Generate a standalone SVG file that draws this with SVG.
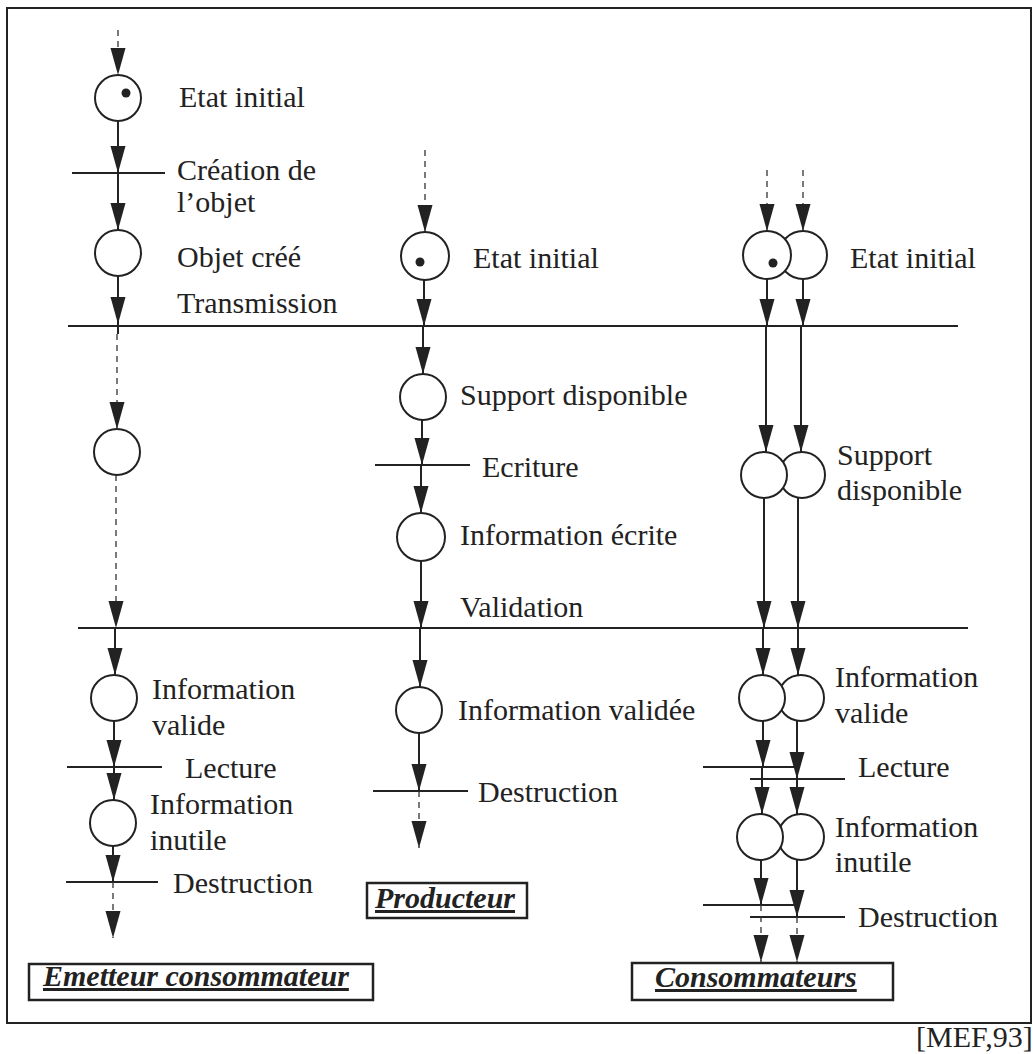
<svg xmlns="http://www.w3.org/2000/svg" width="1033" height="1054" viewBox="0 0 1033 1054">
<style>
.st{fill:#fff;stroke:#222;stroke-width:2}
.dot{fill:#222}
.c{fill:none;stroke:#222;stroke-width:2}
.d{fill:none;stroke:#333;stroke-width:1.3;stroke-dasharray:6,5}
.bar{stroke:#222;stroke-width:2}
.t{font-size:30px;fill:#222}
.h{font-size:30px;font-weight:bold;font-style:italic;text-decoration:underline;fill:#222}
.box{fill:#fff;stroke:#222;stroke-width:2.5}
</style>
<defs>
<marker id="ah" viewBox="0 -8 28 16" refX="27" refY="0" markerWidth="28" markerHeight="16" markerUnits="userSpaceOnUse" orient="auto">
<path d="M0,-7.5 L27,0 L0,7.5 Z" fill="#222"/>
</marker>
</defs>
<rect width="1033" height="1054" fill="#fff"/>
<rect x="7" y="8" width="1024" height="1015" fill="none" stroke="#222" stroke-width="2"/>
<g font-family="Liberation Serif, Tinos, DejaVu Serif, serif">
<text class="t" x="916" y="1047" font-size="26">[MEF,93]</text>

<!-- transitions (bars) -->
<g id="transitions">
<line class="bar" x1="68" y1="326" x2="958" y2="326"/>
<line class="bar" x1="78" y1="628" x2="968" y2="628"/>
<g id="t-creation"><line class="bar" x1="72" y1="173" x2="165" y2="173"/><text class="t" x="177" y="180">Création de</text><text class="t" x="177" y="212">l’objet</text></g>
<g id="t-transmission"><text class="t" x="177" y="313">Transmission</text></g>
<g id="t-lecture-e"><line class="bar" x1="67" y1="767" x2="162" y2="767"/><text class="t" x="185" y="778">Lecture</text></g>
<g id="t-destruction-e"><line class="bar" x1="66" y1="882" x2="158" y2="882"/><text class="t" x="173" y="893">Destruction</text></g>
<g id="t-ecriture"><line class="bar" x1="375" y1="465" x2="470" y2="465"/><text class="t" x="482" y="477">Ecriture</text></g>
<g id="t-validation"><text class="t" x="460" y="617">Validation</text></g>
<g id="t-destruction-p"><line class="bar" x1="373" y1="791" x2="468" y2="791"/><text class="t" x="478" y="802">Destruction</text></g>
<g id="t-lecture-c"><line class="bar" x1="703" y1="767" x2="795" y2="767"/><line class="bar" x1="750" y1="779" x2="845" y2="779"/><text class="t" x="858" y="777">Lecture</text></g>
<g id="t-destruction-c"><line class="bar" x1="703" y1="905" x2="795" y2="905"/><line class="bar" x1="750" y1="917" x2="845" y2="917"/><text class="t" x="858" y="927">Destruction</text></g>
</g>

<!-- connectors -->
<g id="connectors">
<line class="d" x1="118" y1="30" x2="118" y2="75" marker-end="url(#ah)"/>
<line class="c" x1="118" y1="121" x2="118" y2="173" marker-end="url(#ah)"/>
<line class="c" x1="118" y1="173" x2="118" y2="230" marker-end="url(#ah)"/>
<line class="c" x1="118" y1="276" x2="118" y2="324" marker-end="url(#ah)"/>
<line class="c" x1="118" y1="324" x2="118" y2="334"/>
<line class="d" x1="117" y1="334" x2="117" y2="429" marker-end="url(#ah)"/>
<line class="d" x1="116" y1="475" x2="116" y2="628" marker-end="url(#ah)"/>
<line class="c" x1="115" y1="628" x2="115" y2="675" marker-end="url(#ah)"/>
<line class="c" x1="114" y1="721" x2="114" y2="767" marker-end="url(#ah)"/>
<line class="c" x1="114" y1="767" x2="114" y2="800" marker-end="url(#ah)"/>
<line class="c" x1="113" y1="846" x2="113" y2="882" marker-end="url(#ah)"/>
<line class="d" x1="113" y1="882" x2="113" y2="938" marker-end="url(#ah)"/>
<line class="d" x1="425" y1="150" x2="425" y2="232" marker-end="url(#ah)"/>
<line class="c" x1="424" y1="280" x2="424" y2="326" marker-end="url(#ah)"/>
<line class="c" x1="423" y1="326" x2="423" y2="374" marker-end="url(#ah)"/>
<line class="c" x1="422" y1="420" x2="422" y2="465" marker-end="url(#ah)"/>
<line class="c" x1="421" y1="465" x2="421" y2="513" marker-end="url(#ah)"/>
<line class="c" x1="421" y1="561" x2="421" y2="628" marker-end="url(#ah)"/>
<line class="c" x1="420" y1="628" x2="420" y2="687" marker-end="url(#ah)"/>
<line class="c" x1="419" y1="733" x2="419" y2="791" marker-end="url(#ah)"/>
<line class="d" x1="419" y1="791" x2="419" y2="848" marker-end="url(#ah)"/>
<line class="d" x1="767" y1="170" x2="767" y2="231" marker-end="url(#ah)"/>
<line class="d" x1="803" y1="170" x2="803" y2="231" marker-end="url(#ah)"/>
<line class="c" x1="767" y1="279" x2="767" y2="326" marker-end="url(#ah)"/>
<line class="c" x1="803" y1="279" x2="803" y2="326" marker-end="url(#ah)"/>
<line class="c" x1="766" y1="326" x2="766" y2="452" marker-end="url(#ah)"/>
<line class="c" x1="801" y1="326" x2="801" y2="452" marker-end="url(#ah)"/>
<line class="c" x1="764" y1="498" x2="764" y2="628" marker-end="url(#ah)"/>
<line class="c" x1="798" y1="498" x2="798" y2="628" marker-end="url(#ah)"/>
<line class="c" x1="763" y1="628" x2="763" y2="675" marker-end="url(#ah)"/>
<line class="c" x1="798" y1="628" x2="798" y2="675" marker-end="url(#ah)"/>
<line class="c" x1="763" y1="721" x2="763" y2="767" marker-end="url(#ah)"/>
<line class="c" x1="797" y1="721" x2="797" y2="779" marker-end="url(#ah)"/>
<line class="c" x1="762" y1="767" x2="762" y2="814" marker-end="url(#ah)"/>
<line class="c" x1="797" y1="779" x2="797" y2="814" marker-end="url(#ah)"/>
<line class="c" x1="761" y1="860" x2="761" y2="905" marker-end="url(#ah)"/>
<line class="c" x1="797" y1="860" x2="797" y2="917" marker-end="url(#ah)"/>
<line class="d" x1="761" y1="905" x2="761" y2="962" marker-end="url(#ah)"/>
<line class="d" x1="797" y1="917" x2="797" y2="962" marker-end="url(#ah)"/>
</g>

<!-- places -->
<g id="e-etat-initial"><circle class="st" cx="118" cy="98" r="23"/><circle class="dot" cx="126" cy="93" r="4.5"/><text class="t" x="179" y="107">Etat initial</text></g>
<g id="e-objet-cree"><circle class="st" cx="118" cy="253" r="23"/><text class="t" x="177" y="267">Objet créé</text></g>
<g id="e-transmis"><circle class="st" cx="117" cy="452" r="23"/></g>
<g id="e-info-valide"><circle class="st" cx="114" cy="698" r="23"/><text class="t" x="152" y="699">Information</text><text class="t" x="152" y="735">valide</text></g>
<g id="e-info-inutile"><circle class="st" cx="113" cy="823" r="23"/><text class="t" x="150" y="814">Information</text><text class="t" x="150" y="850">inutile</text></g>

<g id="p-etat-initial"><circle class="st" cx="425" cy="256" r="24"/><circle class="dot" cx="420" cy="262" r="4.5"/><text class="t" x="473" y="268">Etat initial</text></g>
<g id="p-support"><circle class="st" cx="423" cy="397" r="23"/><text class="t" x="460" y="405">Support disponible</text></g>
<g id="p-info-ecrite"><circle class="st" cx="421" cy="537" r="24"/><text class="t" x="460" y="545">Information écrite</text></g>
<g id="p-info-validee"><circle class="st" cx="419" cy="710" r="23"/><text class="t" x="458" y="720">Information validée</text></g>

<g id="c-etat-initial"><circle class="st" cx="803" cy="255" r="24"/><circle class="st" cx="767" cy="255" r="24"/><circle class="dot" cx="773" cy="263" r="4.5"/><text class="t" x="850" y="268">Etat initial</text></g>
<g id="c-support"><circle class="st" cx="802" cy="475" r="23"/><circle class="st" cx="764" cy="475" r="23"/><text class="t" x="837" y="465">Support</text><text class="t" x="837" y="500">disponible</text></g>
<g id="c-info-valide"><circle class="st" cx="801" cy="698" r="23"/><circle class="st" cx="762" cy="698" r="23"/><text class="t" x="835" y="687">Information</text><text class="t" x="835" y="723">valide</text></g>
<g id="c-info-inutile"><circle class="st" cx="801" cy="837" r="23"/><circle class="st" cx="760" cy="837" r="23"/><text class="t" x="835" y="837">Information</text><text class="t" x="835" y="872">inutile</text></g>

<!-- titles -->
<g id="title-emetteur"><rect class="box" x="29" y="964" width="344" height="36"/><text class="h" x="43" y="986">Emetteur consommateur</text></g>
<g id="title-producteur"><rect class="box" x="367" y="883" width="160" height="35"/><text class="h" x="375" y="908">Producteur</text></g>
<g id="title-consommateurs"><rect class="box" x="632" y="963" width="261" height="37"/><text class="h" x="655" y="987">Consommateurs</text></g>
</g>
</svg>
